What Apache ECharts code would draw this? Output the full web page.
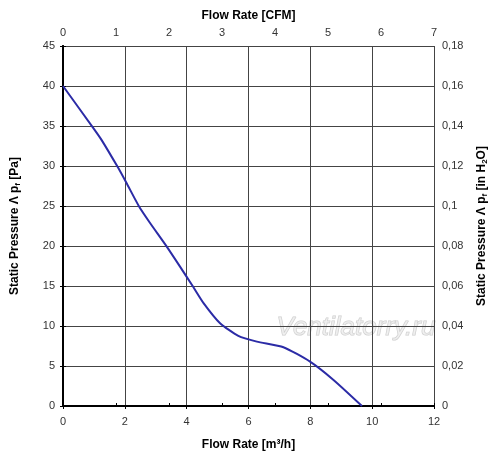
<!DOCTYPE html>
<html>
  <head>
    <meta charset="utf-8" />
    <title>Fan Performance Curve</title>
    <script src="https://cdn.jsdelivr.net/npm/echarts@6/dist/echarts.min.js"></script>
    <style>
      body {
        margin: 0;
        padding: 0;
        background: #fff;
      }
      #main {
        width: 500px;
        height: 461px;
      }
    </style>
  </head>
  <body>
    <div id="main"></div>
    <script type="text/javascript">
      // flow rate in m3/h and static pressure in Pa
      var flowM3h = [0, 0.97, 1.24, 1.78, 2.05, 2.48, 2.81, 3.35, 3.78, 4.21, 4.54, 5.08, 5.67, 6.27, 7.13, 7.99, 8.75, 9.67];
      var pressurePa = [40, 34.8, 33.3, 29.8, 27.9, 24.8, 22.9, 19.95, 17.45, 14.9, 12.9, 10.35, 8.77, 8.05, 7.35, 5.55, 3.26, 0];

      var cfmTicks = [0, 1, 2, 3, 4, 5, 6, 7];
      var inH2OTicks = [0, 0.02, 0.04, 0.06, 0.08, 0.1, 0.12, 0.14, 0.16, 0.18];

      var myChart = echarts.init(document.getElementById("main"));

      var labelStyle = {
        color: "#333",
        fontSize: 11,
        fontFamily: "Liberation Sans",
      };
      var nameStyle = {
        color: "#000",
        fontSize: 12,
        fontWeight: "bold",
        fontFamily: "Liberation Sans",
      };
      var axisLineStyle = { show: true, lineStyle: { color: "#000", width: 2 } };
      var tickStyle = { show: true, inside: false, length: 3, lineStyle: { color: "#000", width: 1 } };
      var gridLines = { show: true, lineStyle: { color: "#444", width: 1, type: "solid" } };

      var richName = {
        b: { fontSize: 12, fontWeight: "bold", fontFamily: "Liberation Sans", color: "#000" },
        s: { fontSize: 8, fontWeight: "bold", fontFamily: "Liberation Sans", color: "#000", padding: [7, 0, 0, 0] },
      };

      var option = {
        animation: false,
        grid: { left: 63, right: 66, top: 46, bottom: 55, containLabel: false, outerBoundsMode: "none" },
        xAxis: [
          {
            type: "value",
            position: "bottom",
            min: 0,
            max: 12,
            interval: 2,
            name: "Flow Rate [m³/h]",
            nameLocation: "middle",
            nameGap: 33,
            nameTextStyle: nameStyle,
            axisLine: axisLineStyle,
            axisTick: tickStyle,
            axisLabel: Object.assign({ margin: 10 }, labelStyle),
            splitLine: gridLines,
          },
          {
            type: "value",
            position: "top",
            min: cfmTicks[0],
            max: cfmTicks[cfmTicks.length - 1],
            interval: 1,
            name: "Flow Rate [CFM]",
            nameLocation: "middle",
            nameGap: 23,
            nameTextStyle: nameStyle,
            axisLine: axisLineStyle,
            axisTick: tickStyle,
            axisLabel: Object.assign({ margin: 8 }, labelStyle),
            splitLine: { show: false },
          },
        ],
        yAxis: [
          {
            type: "value",
            position: "left",
            min: 0,
            max: 45,
            interval: 5,
            name: "{b|Static Pressure Λ p}{s|f}{b| [Pa]}",
            nameLocation: "middle",
            nameGap: 41,
            nameRotate: 90,
            nameTextStyle: { rich: richName },
            axisLine: axisLineStyle,
            axisTick: tickStyle,
            axisLabel: Object.assign({ margin: 8 }, labelStyle),
            splitLine: gridLines,
          },
          {
            type: "value",
            position: "right",
            min: inH2OTicks[0],
            max: inH2OTicks[inH2OTicks.length - 1],
            interval: 0.02,
            name: "{b|Static Pressure Λ p}{s|f}{b| [in H}{s|2}{b|O]}",
            nameLocation: "middle",
            nameGap: 40,
            nameRotate: 90,
            nameTextStyle: { rich: richName },
            axisLine: axisLineStyle,
            axisTick: tickStyle,
            axisLabel: Object.assign(
              {
                margin: 8,
                formatter: function (v) {
                  return String(Math.round(v * 100) / 100).replace(".", ",");
                },
              },
              labelStyle
            ),
            splitLine: { show: false },
          },
        ],
        graphic: [
          {
            type: "text",
            left: 276,
            top: 314,
            silent: true,
            style: {
              text: "Ventilatorry.ru",
              fill: "rgba(235,235,235,0.7)",
              stroke: "rgba(170,170,170,0.6)",
              lineWidth: 1,
              font: "italic 26px 'Liberation Sans'",
            },
          },
        ],
        series: [
          {
            type: "line",
            xAxisIndex: 0,
            yAxisIndex: 0,
            data: flowM3h.map(function (x, i) {
              return [x, pressurePa[i]];
            }),
            showSymbol: false,
            smooth: 0.2,
            lineStyle: { color: "#2b2ba6", width: 2 },
          },
        ],
      };

      myChart.setOption(option);
    </script>
  </body>
</html>
